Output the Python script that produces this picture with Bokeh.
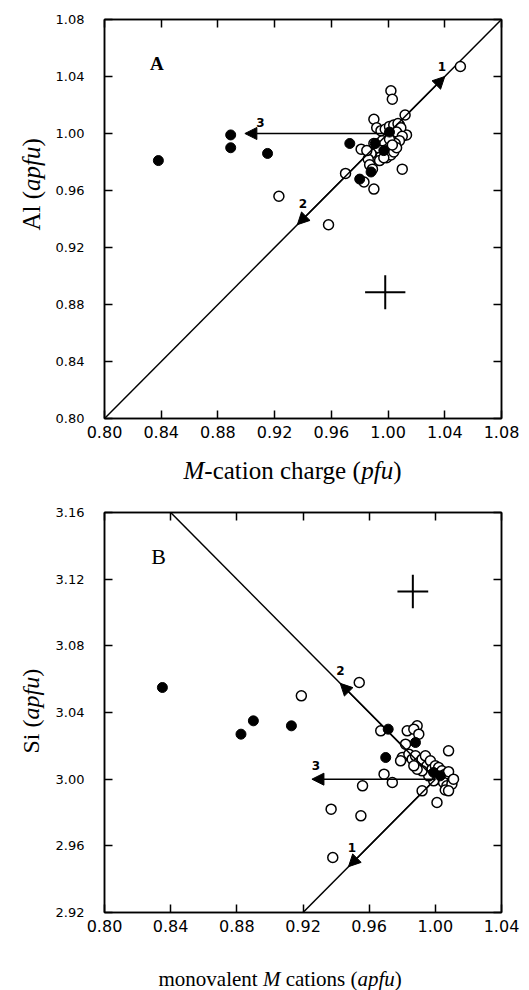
import math
from bokeh.plotting import figure
from bokeh.models import (LinearAxis, FixedTicker, PrintfTickFormatter, Arrow,
                          NormalHead, Range1d)
from bokeh.layouts import column, row
from bokeh.core.properties import value
from bokeh.embed import file_html
from bokeh.resources import INLINE

# ---------------- data : panel A ----------------
a_ticks_x = [0.80, 0.84, 0.88, 0.92, 0.96, 1.00, 1.04, 1.08]
a_ticks_y = [0.80, 0.84, 0.88, 0.92, 0.96, 1.00, 1.04, 1.08]

a_open_x = [1.051, 1.002, 1.003, 1.012, 0.990, 1.010, 0.990, 0.983, 0.970, 0.923,
            0.958, 0.981, 1.013, 1.008,
            0.992, 0.995, 0.998, 1.001, 1.004, 1.007, 1.009, 1.006, 1.010, 1.008,
            1.005, 1.003, 1.000, 0.997, 0.995, 0.999, 1.002, 1.004, 0.993, 0.990,
            0.988, 0.986, 0.987, 0.989, 1.006, 0.996, 1.001, 0.985, 0.994, 0.997, 1.003]
a_open_y = [1.047, 1.030, 1.024, 1.013, 1.010, 0.975, 0.961, 0.966, 0.972, 0.956,
            0.936, 0.989, 0.999, 1.006,
            1.004, 1.002, 1.003, 1.005, 1.006, 1.007, 1.004, 1.001, 0.998, 0.995,
            0.993, 0.990, 0.988, 0.986, 0.984, 0.983, 0.985, 0.987, 0.990, 0.993,
            0.986, 0.982, 0.978, 0.975, 0.990, 0.995, 0.996, 0.988, 0.981, 0.983, 0.992]
a_fill_x = [0.838, 0.889, 0.889, 0.915, 0.973, 0.980, 0.988, 0.991, 0.997, 1.001]
a_fill_y = [0.981, 0.999, 0.990, 0.986, 0.993, 0.968, 0.973, 0.993, 0.988, 1.001]

a_line_x = [0.80, 1.08]
a_line_y = [0.80, 1.08]
a_arrow_start = [(1.00, 1.00), (1.00, 1.00), (1.00, 1.00)]
a_arrow_end = [(1.040, 1.040), (0.936, 0.936), (0.899, 1.000)]
a_arrow_lab_x = [1.038, 0.940, 0.910]
a_arrow_lab_y = [1.047, 0.951, 1.008]
a_arrow_lab = ["1", "2", "3"]
a_cross = (0.998, 0.8886, 0.0142, 0.012)   # centre x, centre y, err x, err y
a_panel = (0.837, 1.049, "A")

# ---------------- data : panel B ----------------
b_ticks_x = [0.80, 0.84, 0.88, 0.92, 0.96, 1.00, 1.04]
b_ticks_y = [2.92, 2.96, 3.00, 3.04, 3.08, 3.12, 3.16]

b_open_x = [0.954, 0.919, 0.967, 0.983, 0.989, 0.982, 1.008, 0.969, 0.974, 0.956,
            0.937, 0.955, 1.001, 0.992, 0.938, 0.987, 0.990,
            0.980, 0.984, 0.986, 0.988, 0.990, 0.992, 0.994, 0.995, 0.997, 0.998,
            1.000, 1.002, 1.001, 1.004, 1.006, 1.008, 1.003, 1.005, 1.007, 1.010,
            1.006, 1.008, 0.999, 0.996, 0.992, 0.989, 0.987, 1.011, 0.979]
b_open_y = [3.058, 3.050, 3.029, 3.029, 3.032, 3.021, 3.017, 3.003, 2.998, 2.996,
            2.982, 2.978, 2.986, 2.993, 2.953, 3.030, 3.027,
            3.013, 3.015, 3.012, 3.014, 3.010, 3.012, 3.014, 3.008, 3.011, 3.006,
            3.008, 3.007, 3.003, 3.005, 3.003, 3.0045, 3.000, 2.998, 2.996, 2.997,
            2.9935, 2.993, 2.999, 3.002, 3.005, 3.006, 3.008, 3.000, 3.011]
b_fill_x = [0.835, 0.8825, 0.890, 0.913, 0.9715, 0.970, 0.988, 0.999, 1.003]
b_fill_y = [3.055, 3.027, 3.035, 3.032, 3.030, 3.013, 3.022, 3.004, 3.002]

b_line1_x = [0.84, 1.00]
b_line1_y = [3.16, 3.00]
b_line2_x = [1.00, 0.92]
b_line2_y = [3.00, 2.92]
b_arrow_start = [(1.00, 3.00), (1.00, 3.00), (1.00, 3.00)]
b_arrow_end = [(0.9475, 2.9475), (0.9425, 3.0575), (0.9254, 3.000)]
b_arrow_lab_x = [0.9496, 0.9427, 0.9278]
b_arrow_lab_y = [2.9593, 3.0653, 3.0084]
b_arrow_lab = ["1", "2", "3"]
b_cross = (0.9864, 3.1126, 0.0093, 0.010)
b_panel = (0.8327, 3.1336, "B")

# axis titles: runs of (text, italic)
a_xtitle = [("M", True), ("-cation charge (", False), ("pfu", True), (")", False)]
a_ytitle = [("Al (", False), ("apfu", True), (")", False)]
b_xtitle = [("monovalent ", False), ("M", True), (" cations (", False), ("apfu", True), (")", False)]
b_ytitle = [("Si (", False), ("apfu", True), (")", False)]

# Times-like advance widths (per 1000 em) used to lay out the mixed-style titles
W_R = {" ": 250, "(": 333, ")": 333, "-": 333, "a": 444, "c": 444, "e": 444, "g": 500,
       "h": 500, "i": 278, "l": 278, "m": 778, "n": 500, "o": 500, "r": 333, "s": 389,
       "t": 278, "v": 500, "A": 722, "S": 556, "M": 889}
W_I = {"M": 833, "a": 500, "p": 500, "f": 278, "u": 500, " ": 250}

SERIF = "Liberation Serif"
SANS = "DejaVu Sans"
MID = 0.33           # distance baseline -> text "middle", in em

YLAB_W = 50          # width of the strip holding the vertical titles
MAIN_LEFT = 54       # left border of the main plots (frame starts at x=104)
MAIN_RIGHT = 25
FRAME_W = 397
TOTAL_W = YLAB_W + MAIN_LEFT + FRAME_W + MAIN_RIGHT


def run_width(txt, italic, size):
    tbl = W_I if italic else W_R
    return sum(tbl.get(ch, 500) for ch in txt) * size / 1000.0


def strip(w, h, fh=None, top=0, bottom=0):
    kw = dict(frame_width=w, frame_height=fh, min_border_top=top,
              min_border_bottom=bottom) if fh else dict(width=w, height=h)
    ry = fh if fh else h
    p = figure(x_range=Range1d(0, w), y_range=Range1d(0, ry),
               min_border_left=0, min_border_right=0,
               x_axis_type=None, y_axis_type=None, title=None,
               output_backend="svg", toolbar_location=None,
               background_fill_color="white", border_fill_color="white", **kw)
    if not fh:
        p.min_border = 0
    p.outline_line_color = None
    return p


def add_runs(p, runs, x0, y0, size, vertical=False):
    """x0, y0: start of the baseline in the strip's pixel coordinates."""
    off = 0.0
    for txt, it in runs:
        stripped = txt.lstrip(" ")
        lead = run_width(txt[:len(txt) - len(stripped)], it, size)
        shown = stripped.rstrip(" ")
        pos = off + lead
        if vertical:
            x, y, ang = x0 - MID * size, y0 + pos, math.pi / 2
        else:
            x, y, ang = x0 + pos, y0 + MID * size, 0.0
        p.text(x=[x], y=[y], text=[shown], angle=ang, text_font=value(SERIF),
               text_font_style="italic" if it else "normal",
               text_font_size=f"{size}px", text_color="black",
               text_align="left", text_baseline="middle")
        off += run_width(txt, it, size)


def make_fig(xr, yr, xt, yt, top, fh, bottom):
    p = figure(x_range=Range1d(*xr), y_range=Range1d(*yr),
               frame_width=FRAME_W, frame_height=fh,
               min_border_left=MAIN_LEFT, min_border_right=MAIN_RIGHT,
               min_border_top=top, min_border_bottom=bottom,
               x_axis_type=None, y_axis_type=None, title=None,
               output_backend="svg", toolbar_location=None,
               background_fill_color="white", border_fill_color="white")
    p.outline_line_color = "black"
    p.outline_line_width = 1.5
    for side, ticks in (("below", xt), ("left", yt), ("above", xt), ("right", yt)):
        ax = LinearAxis(ticker=FixedTicker(ticks=ticks, minor_ticks=[]),
                        formatter=PrintfTickFormatter(format="%.2f"))
        ax.axis_line_color = "black"
        ax.axis_line_width = 1.5
        ax.major_tick_in = 8
        ax.major_tick_out = 0
        ax.major_tick_line_width = 1.5
        ax.major_tick_line_color = "black"
        ax.minor_tick_line_color = None
        ax.major_label_text_font = SANS
        ax.major_label_text_color = "black"
        if side == "below":
            ax.major_label_text_font_size = "16px"
            ax.major_label_standoff = 7
        elif side == "left":
            ax.major_label_text_font_size = "13px"
            ax.major_label_standoff = 20
        else:
            ax.major_label_text_font_size = "0px"
            ax.major_label_text_color = None
            ax.major_label_standoff = 0
        p.add_layout(ax, side)
    return p


def draw_panel(p, ox, oy, fx, fy, arrows_s, arrows_e, lx, ly, lt, cross, panel,
               panel_bold, panel_size):
    for (xs, ys), (xe, ye) in zip(arrows_s, arrows_e):
        p.add_layout(Arrow(x_start=xs, y_start=ys, x_end=xe, y_end=ye,
                           line_color="black", line_width=1.5,
                           end=NormalHead(size=12, fill_color="black", line_color="black",
                                          line_width=1)))
    cx, cy, ex, ey = cross
    p.segment(x0=[cx - ex, cx], y0=[cy, cy - ey], x1=[cx + ex, cx], y1=[cy, cy + ey],
              line_color="black", line_width=2)
    p.scatter(ox, oy, size=10, marker="circle", fill_color="white",
              line_color="black", line_width=1.5)
    p.scatter(fx, fy, size=10, marker="circle", fill_color="black",
              line_color="black", line_width=1)
    p.text(x=lx, y=ly, text=lt, text_font=value(SANS), text_font_style="bold",
           text_font_size="12px", text_align="center", text_baseline="middle",
           text_color="black")
    p.text(x=[panel[0]], y=[panel[1]], text=[panel[2]], text_font=value(SERIF),
           text_font_style="bold" if panel_bold else "normal",
           text_font_size=panel_size, text_align="center", text_baseline="middle",
           text_color="black")


# ---------------- panel A (page rows 0..490) ----------------
A_TOP, A_FH, A_H = 19, 399, 450
p1 = make_fig((0.80, 1.08), (0.80, 1.08), a_ticks_x, a_ticks_y, A_TOP, A_FH, A_H - A_TOP - A_FH)
p1.line(a_line_x, a_line_y, line_color="black", line_width=1.5)
draw_panel(p1, a_open_x, a_open_y, a_fill_x, a_fill_y, a_arrow_start, a_arrow_end,
           a_arrow_lab_x, a_arrow_lab_y, a_arrow_lab, a_cross, a_panel, True, "19px")
ya = strip(YLAB_W, A_H, fh=A_FH, top=A_TOP, bottom=A_H - A_TOP - A_FH)
add_runs(ya, a_ytitle, 39, (A_TOP + A_FH) - 230, 25, vertical=True)
XA_H = 40
xa = strip(TOTAL_W, XA_H)
add_runs(xa, a_xtitle, 183, (A_H + XA_H) - 478, 25)

# ---------------- panel B (page rows 490..990) ----------------
B_TOP, B_FH, B_H = 22, 400, 446
B_Y0 = A_H + XA_H
p2 = make_fig((0.80, 1.04), (2.92, 3.16), b_ticks_x, b_ticks_y, B_TOP, B_FH, B_H - B_TOP - B_FH)
p2.line(b_line1_x, b_line1_y, line_color="black", line_width=1.5)
p2.line(b_line2_x, b_line2_y, line_color="black", line_width=1.5)
draw_panel(p2, b_open_x, b_open_y, b_fill_x, b_fill_y, b_arrow_start, b_arrow_end,
           b_arrow_lab_x, b_arrow_lab_y, b_arrow_lab, b_cross, b_panel, False, "22px")
yb = strip(YLAB_W, B_H, fh=B_FH, top=B_TOP, bottom=B_H - B_TOP - B_FH)
add_runs(yb, b_ytitle, 38, (B_Y0 + B_TOP + B_FH) - 753, 24, vertical=True)
XB_H = 54
xb = strip(TOTAL_W, XB_H)
add_runs(xb, b_xtitle, 158, (B_Y0 + B_H + XB_H) - 985, 21)

layout = column(row(ya, p1), xa, row(yb, p2), xb)
open("out.html", "w").write(file_html(layout, INLINE))
